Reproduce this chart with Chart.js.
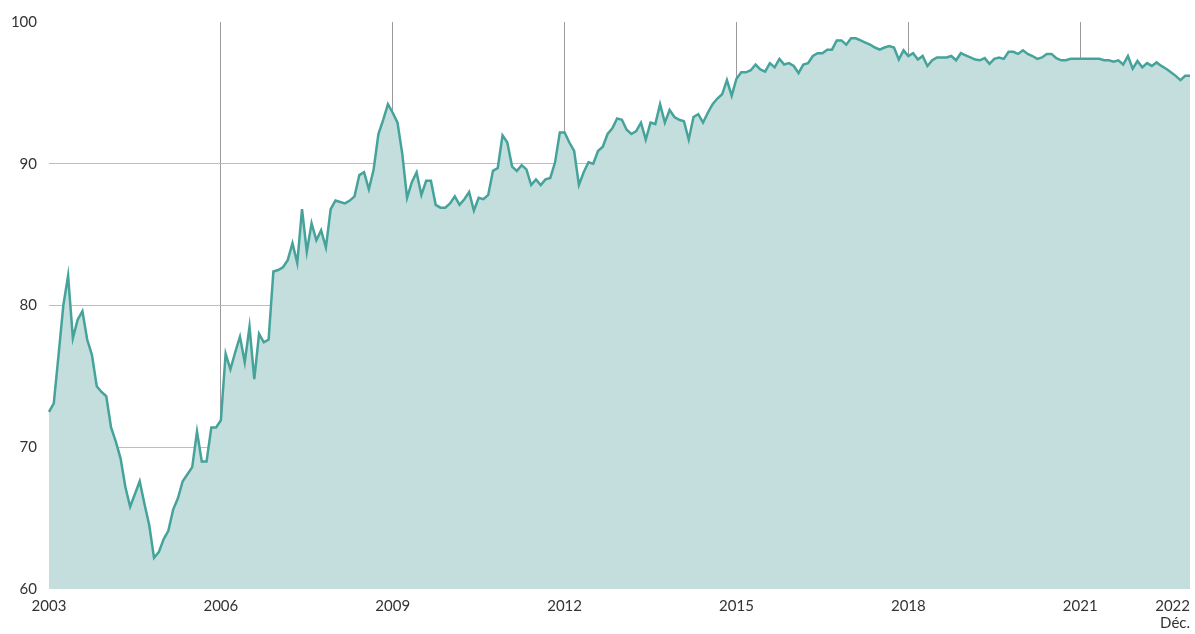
<!DOCTYPE html>
<html>
<head>
<meta charset="utf-8">
<script src="https://cdn.jsdelivr.net/npm/chart.js@4.4.0/dist/chart.umd.min.js"></script>
<style>
  html, body { margin: 0; padding: 0; background: #fff; }
  #wrap { width: 1195px; height: 634px; position: relative; }
</style>
</head>
<body>
<div id="wrap"><canvas id="myChart"></canvas></div>
<script>
// monthly values, one array per year (Jan..Dec)
const y2003 = [72.5, 73.1, 76.5, 80.0, 82.1, 77.7, 79.0, 79.6, 77.6, 76.5, 74.3, 73.9];
const y2004 = [73.6, 71.4, 70.4, 69.2, 67.2, 65.8, 66.7, 67.6, 66.0, 64.5, 62.2, 62.6];
const y2005 = [63.5, 64.1, 65.6, 66.4, 67.6, 68.1, 68.6, 71.1, 69.0, 69.0, 71.4, 71.4];
const y2006 = [71.9, 76.6, 75.5, 76.7, 77.8, 76.0, 78.5, 74.8, 78.0, 77.4, 77.6, 82.4];
const y2007 = [82.5, 82.7, 83.2, 84.4, 83.0, 86.8, 83.8, 85.8, 84.6, 85.3, 84.1, 86.8];
const y2008 = [87.4, 87.3, 87.2, 87.4, 87.7, 89.2, 89.4, 88.2, 89.6, 92.1, 93.1, 94.2];
const y2009 = [93.6, 92.9, 90.7, 87.6, 88.7, 89.4, 87.8, 88.8, 88.8, 87.1, 86.9, 86.9];
const y2010 = [87.2, 87.7, 87.1, 87.5, 88.0, 86.7, 87.6, 87.5, 87.8, 89.5, 89.7, 92.0];
const y2011 = [91.5, 89.8, 89.5, 89.9, 89.6, 88.5, 88.9, 88.5, 88.9, 89.0, 90.1, 92.2];
const y2012 = [92.2, 91.5, 90.9, 88.5, 89.4, 90.1, 90.0, 90.9, 91.2, 92.1, 92.5, 93.2];
const y2013 = [93.1, 92.4, 92.1, 92.3, 92.9, 91.7, 92.9, 92.8, 94.2, 92.9, 93.8, 93.3];
const y2014 = [93.1, 93.0, 91.7, 93.3, 93.5, 92.9, 93.6, 94.2, 94.6, 94.9, 95.9, 94.8];
const y2015 = [96.0, 96.45, 96.45, 96.6, 97.0, 96.65, 96.5, 97.1, 96.8, 97.4, 97.0, 97.1];
const y2016 = [96.9, 96.4, 97.0, 97.1, 97.6, 97.8, 97.8, 98.05, 98.05, 98.7, 98.7, 98.4];
const y2017 = [98.85, 98.85, 98.7, 98.55, 98.4, 98.2, 98.05, 98.2, 98.3, 98.2, 97.35, 98.0];
const y2018 = [97.6, 97.8, 97.35, 97.6, 96.9, 97.3, 97.5, 97.5, 97.5, 97.6, 97.3, 97.8];
const y2019 = [97.65, 97.5, 97.35, 97.3, 97.45, 97.05, 97.4, 97.5, 97.4, 97.9, 97.9, 97.75];
const y2020 = [98.0, 97.75, 97.6, 97.4, 97.5, 97.75, 97.75, 97.45, 97.3, 97.3, 97.4, 97.4];
const y2021 = [97.4, 97.4, 97.4, 97.4, 97.4, 97.3, 97.3, 97.2, 97.3, 97.0, 97.6, 96.7];
const y2022 = [97.25, 96.8, 97.1, 96.9, 97.15, 96.9, 96.7, 96.45, 96.2, 95.9, 96.2, 96.2];

const years = [2003, 2004, 2005, 2006, 2007, 2008, 2009, 2010, 2011, 2012,
               2013, 2014, 2015, 2016, 2017, 2018, 2019, 2020, 2021, 2022];
const yearTicks = ['2003', '2006', '2009', '2012', '2015', '2018', '2021'];
const gridYears = ['2006', '2009', '2012', '2015', '2018', '2021'];
const lastTick = ['2022', 'Déc.'];
const yTicks = [60, 70, 80, 90, 100];

const values = [].concat(y2003, y2004, y2005, y2006, y2007, y2008, y2009, y2010, y2011, y2012,
                         y2013, y2014, y2015, y2016, y2017, y2018, y2019, y2020, y2021, y2022);

var labels = [];
years.forEach(function (yr) {
  for (var m = 1; m <= 12; m++) {
    labels.push(yr + '-' + (m < 10 ? '0' + m : m));
  }
});

const FONT = 'Lato';
const TEXT = '#333333';

//x labels drawn at scale positions
const xLabels = {
  id: 'xLabels',
  afterDraw(chart) {
    var ctx = chart.ctx;
    var xs = chart.scales.x;
    var top = chart.chartArea.bottom + 10;
    ctx.save();
    ctx.font = '15px ' + FONT;
    ctx.fillStyle = TEXT;
    ctx.textBaseline = 'top';
    ctx.textAlign = 'center';
    yearTicks.forEach(function (yr) {
      var x = xs.getPixelForValue(labels.indexOf(yr + '-01'));
      ctx.fillText(yr, x, top);
    });
    var xr = xs.getPixelForValue(labels.length - 1);
    ctx.textAlign = 'right';
    ctx.fillText(lastTick[0], xr, top);
    ctx.fillText(lastTick[1], xr, top + 17);
    ctx.restore();
  }
};

var ctx = document.getElementById('myChart').getContext('2d');
var myChart = new Chart(ctx, {
  type: 'line',
  data: {
    labels: labels,
    datasets: [{
      data: values,
      borderColor: '#46a39b',
      backgroundColor: '#c3dedc',
      borderWidth: 2.5,
      fill: 'start',
      tension: 0,
      pointRadius: 0
    }]
  },
  options: {
    responsive: true,
    maintainAspectRatio: false,
    animation: false,
    layout: {
      padding: {top: 22, right: 5, bottom: 45, left: 0}
    },
    plugins: {
      legend: { display: false },
      tooltip: { enabled: false }
    },
    scales: {
      x: {
        type: 'category',
        border: { display: false },
        ticks: { display: false, autoSkip: false },
        grid: {
          drawTicks: false,
          color: function (c) {
            var lab = labels[c.index] || '';
            if (lab.slice(5) === '01' && gridYears.indexOf(lab.slice(0, 4)) >= 0) {
              return '#9a9a9a';
            }
            return 'rgba(0,0,0,0)';
          }
        }
      },
      y: {
        min: 60,
        max: 100,
        afterBuildTicks: function (scale) {
          scale.ticks = yTicks.map(function (v) { return {value: v}; });
        },
        afterFit: function (scale) {
          scale.width = 49;
        },
        border: { display: false },
        ticks: {
          padding: 12,
          color: TEXT,
          font: { family: FONT, size: 15 }
        },
        grid: {
          drawTicks: false,
          color: function (c) {
            var v = c.tick.value;
            return (v > 60 && v < 100) ? '#bdbdbd' : 'rgba(0,0,0,0)';
          }
        }
      }
    }
  },
  plugins: [xLabels]
});
</script>
</body>
</html>
